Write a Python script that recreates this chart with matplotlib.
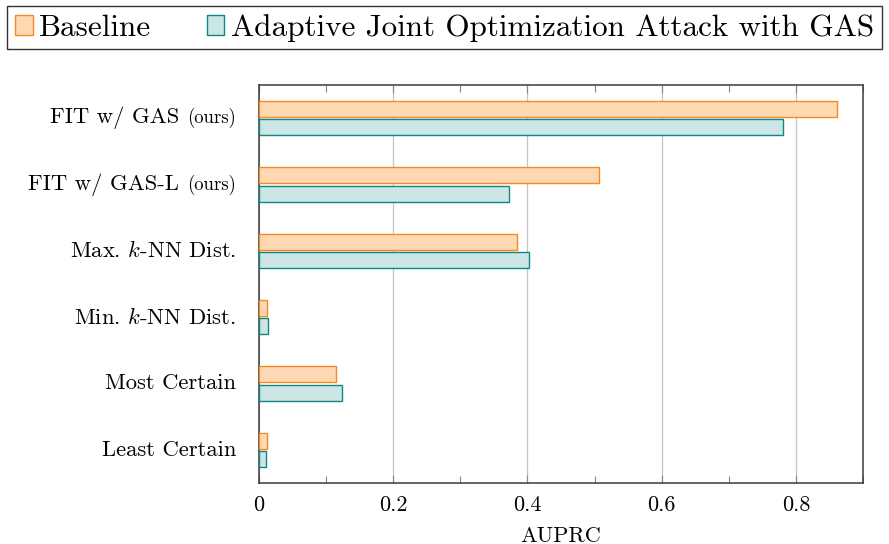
import numpy as np
import matplotlib
matplotlib.use("Agg")
import matplotlib.pyplot as plt
from matplotlib.patches import Patch
from matplotlib.offsetbox import TextArea, HPacker, AnnotationBbox
from matplotlib.ticker import MultipleLocator

plt.rcParams["font.family"] = "serif"
plt.rcParams["font.serif"] = ["cmr10", "DejaVu Serif"]
plt.rcParams["mathtext.fontset"] = "cm"
plt.rcParams["axes.formatter.use_mathtext"] = True

# methods, top to bottom; second item is the small "(ours)" tag
methods = ["FIT w/ GAS", "FIT w/ GAS-L", "Max. $k$-NN Dist.",
           "Min. $k$-NN Dist.", "Most Certain", "Least Certain"]
tags = ["(ours)", "(ours)", "", "", "", ""]

baseline = [0.862, 0.507, 0.384, 0.012, 0.114, 0.012]
adaptive = [0.781, 0.373, 0.402, 0.013, 0.123, 0.011]

xticks = [0, 0.2, 0.4, 0.6, 0.8]
xtick_labels = ["0", "0.2", "0.4", "0.6", "0.8"]

orange_edge, orange_fill = "#F58A1F", "#FED8B2"
teal_edge, teal_fill = "#128686", "#CCE5E5"

fig = plt.figure(figsize=(8.89, 5.44), dpi=100)
ax = fig.add_axes([259 / 889, 61 / 544, 604 / 889, 398 / 544])

y = np.arange(len(methods))
h = 0.24
off = 0.14
ax.barh(y - off, baseline, height=h, color=orange_fill, edgecolor=orange_edge,
        linewidth=1.0, zorder=3)
ax.barh(y + off, adaptive, height=h, color=teal_fill, edgecolor=teal_edge,
        linewidth=1.0, zorder=3)

ax.set_ylim(-0.5, len(methods) - 0.5)
ax.invert_yaxis()
ax.set_xlim(0, 0.9)
ax.set_xticks(xticks)
ax.set_xticklabels(xtick_labels, fontsize=16)
ax.xaxis.set_minor_locator(MultipleLocator(0.1))
ax.tick_params(axis="x", which="both", direction="in", top=True, bottom=True,
               colors="#888888", labelcolor="black", pad=9)
ax.tick_params(axis="x", which="major", length=6, width=0.8)
ax.tick_params(axis="x", which="minor", length=5, width=0.8)
ax.set_yticks([])
ax.grid(axis="x", which="major", color="#c4c4c4", linewidth=0.9)
ax.set_axisbelow(True)
for s in ax.spines.values():
    s.set_color("#3a3a3a")
    s.set_linewidth(1.1)

ax.set_xlabel("AUPRC", fontsize=16, labelpad=8)

# category labels with a smaller "(ours)" tag
for yi, name, tag in zip(y, methods, tags):
    parts = [TextArea(name, textprops=dict(fontsize=16.3))]
    if tag:
        parts.append(TextArea(tag, textprops=dict(fontsize=13.5)))
    box = HPacker(children=parts, align="baseline", pad=0, sep=6)
    ab = AnnotationBbox(box, (0, yi), xycoords=ax.get_yaxis_transform(),
                        xybox=(-16.5, 0), boxcoords="offset points",
                        box_alignment=(1, 0.5), frameon=False, pad=0)
    ax.add_artist(ab)

handles = [
    Patch(facecolor=orange_fill, edgecolor=orange_edge, linewidth=1.0, label="Baseline"),
    Patch(facecolor=teal_fill, edgecolor=teal_edge, linewidth=1.0,
          label="Adaptive Joint Optimization Attack with GAS"),
]
leg = fig.legend(handles=handles, loc="upper center", bbox_to_anchor=(0.5, 1 - 6 / 544),
                 ncol=2, fontsize=22.4, frameon=True, fancybox=False, edgecolor="black",
                 handlelength=0.56, handleheight=0.62, handletextpad=0.2,
                 columnspacing=1.8, borderpad=0.25, borderaxespad=0)
leg.get_frame().set_linewidth(1.0)

fig.savefig("out.png", dpi=100)
